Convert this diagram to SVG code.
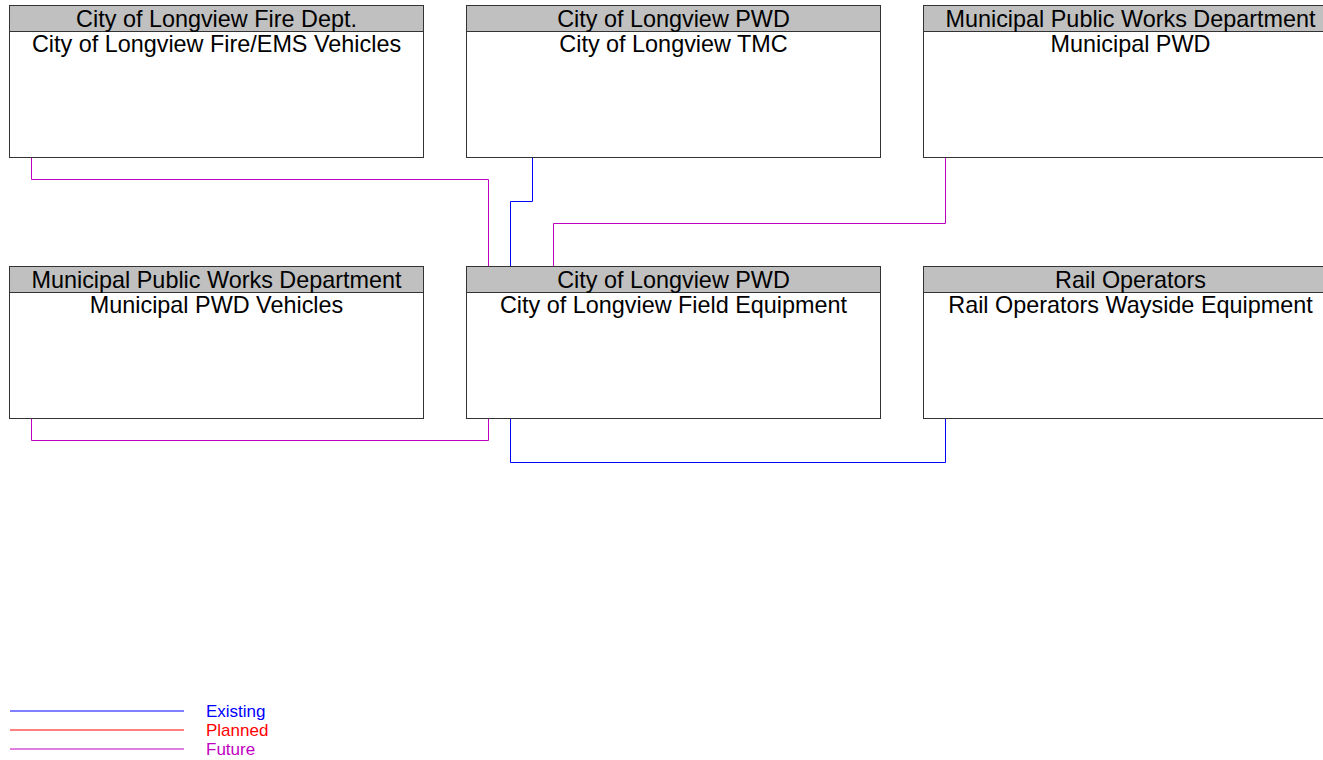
<svg xmlns="http://www.w3.org/2000/svg" width="1323" height="760" viewBox="0 0 1323 760">
<style>
.box{fill:#fff;stroke:#333;stroke-width:1}
.hdr{fill:#c0c0c0;stroke:#333;stroke-width:1}
.t{font-family:"Liberation Sans",Arial,sans-serif;font-size:23.4px;fill:#000;text-anchor:middle}
.c{fill:none;stroke-width:1}
.ex{stroke:#0000ff}
.pl{stroke:#ff0000}
.fu{stroke:#c000c0}
.lg{font-family:"Liberation Sans",Arial,sans-serif;font-size:17px}
</style>
<rect width="1323" height="760" fill="#fff"/>
<g id="connectors">
<polyline class="c fu" points="31.5,157 31.5,179.5 488.5,179.5 488.5,266"/>
<polyline class="c ex" points="532.5,157 532.5,201.5 510.5,201.5 510.5,266"/>
<polyline class="c fu" points="945.5,157 945.5,223.5 553.5,223.5 553.5,266"/>
<polyline class="c fu" points="31.5,418 31.5,440.5 488.5,440.5 488.5,418"/>
<polyline class="c ex" points="510.5,418 510.5,462.5 945.5,462.5 945.5,418"/>
</g>
<g id="node-fire-ems">
<rect class="box" x="9.5" y="5.5" width="414" height="152"/>
<rect class="hdr" x="9.5" y="5.5" width="414" height="26"/>
<text class="t" x="216.5" y="27">City of Longview Fire Dept.</text>
<text class="t" x="216.5" y="52">City of Longview Fire/EMS Vehicles</text>
</g>
<g id="node-tmc">
<rect class="box" x="466.5" y="5.5" width="414" height="152"/>
<rect class="hdr" x="466.5" y="5.5" width="414" height="26"/>
<text class="t" x="673.5" y="27">City of Longview PWD</text>
<text class="t" x="673.5" y="52">City of Longview TMC</text>
</g>
<g id="node-municipal-pwd">
<rect class="box" x="923.5" y="5.5" width="414" height="152"/>
<rect class="hdr" x="923.5" y="5.5" width="414" height="26"/>
<text class="t" x="1130.5" y="27">Municipal Public Works Department</text>
<text class="t" x="1130.5" y="52">Municipal PWD</text>
</g>
<g id="node-municipal-pwd-vehicles">
<rect class="box" x="9.5" y="266.5" width="414" height="152"/>
<rect class="hdr" x="9.5" y="266.5" width="414" height="26"/>
<text class="t" x="216.5" y="288">Municipal Public Works Department</text>
<text class="t" x="216.5" y="313">Municipal PWD Vehicles</text>
</g>
<g id="node-field-equipment">
<rect class="box" x="466.5" y="266.5" width="414" height="152"/>
<rect class="hdr" x="466.5" y="266.5" width="414" height="26"/>
<text class="t" x="673.5" y="288">City of Longview PWD</text>
<text class="t" x="673.5" y="313">City of Longview Field Equipment</text>
</g>
<g id="node-rail-wayside">
<rect class="box" x="923.5" y="266.5" width="414" height="152"/>
<rect class="hdr" x="923.5" y="266.5" width="414" height="26"/>
<text class="t" x="1130.5" y="288">Rail Operators</text>
<text class="t" x="1130.5" y="313">Rail Operators Wayside Equipment</text>
</g>
<g id="legend">
<line class="c ex" x1="10" y1="711" x2="184" y2="711"/>
<line class="c pl" x1="10" y1="730" x2="184" y2="730"/>
<line class="c fu" x1="10" y1="749" x2="184" y2="749"/>
<text class="lg" x="206" y="717" fill="#0000ff">Existing</text>
<text class="lg" x="206" y="736" fill="#ff0000">Planned</text>
<text class="lg" x="206" y="755" fill="#c000c0">Future</text>
</g>
</svg>
